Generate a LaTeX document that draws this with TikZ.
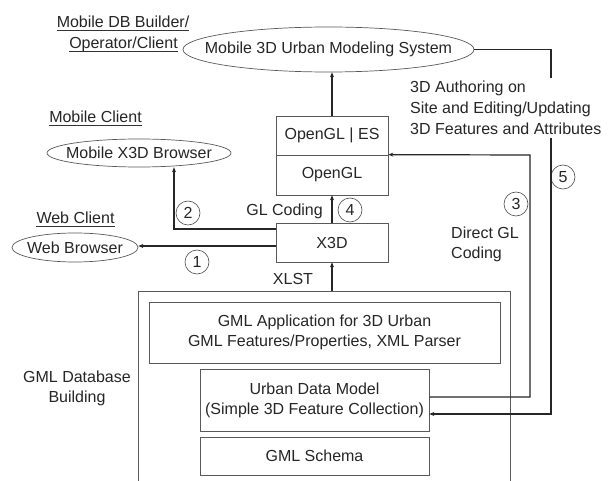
\documentclass[tikz,border=0pt]{standalone}
\usepackage{fontspec}
\setmainfont{Liberation Sans}
\usetikzlibrary{arrows.meta,calc,shapes.geometric}
\begin{document}
\begin{tikzpicture}[x=1pt,y=-1pt,font=\fontsize{16}{20}\selectfont,text=black!85]
\tikzset{
  oval/.style={ellipse,draw=black!65,line width=0.7pt,inner sep=0pt},
  rbox/.style={rectangle,draw=black!65,line width=0.7pt,inner sep=0pt,align=center},
  num/.style={circle,draw=black!70,line width=0.6pt,minimum size=24pt,inner sep=0pt},
  conn/.style={line width=1.2pt,draw=black!85},
  arr/.style={conn,-{Stealth[length=5pt,width=4pt]}},
  ulab/.style={inner sep=0pt,anchor=base},
  uline/.style={draw=black!80,line width=0.7pt},
  txt/.style={inner sep=0pt,align=left},
}
\useasboundingbox (0,0) rectangle (611,481);
\fill[white] (0,0) rectangle (611,481);

% boxes
\node[rbox,minimum width=372pt,minimum height=200pt] (db) at (324,391) {};
\node[rbox,minimum width=351pt,minimum height=61pt] (app) at (324.5,332.5) {GML Application for 3D Urban\\GML Features/Properties, XML Parser};
\node[rbox,minimum width=229pt,minimum height=62pt] (udm) at (314.5,400) {Urban Data Model\\(Simple 3D Feature Collection)};
\node[rbox,minimum width=229pt,minimum height=38pt] (sch) at (314.5,456) {GML Schema};
\node[rbox,minimum width=112pt,minimum height=39pt] (x3d) at (332,242.5) {X3D};
\node[rbox,minimum width=112pt,minimum height=40pt] (gl) at (332,175) {OpenGL};
\node[rbox,minimum width=112pt,minimum height=39pt] (gles) at (332,135.5) {OpenGL | ES};

% ellipses
\node[oval,minimum width=291pt,minimum height=45pt,label={[inner sep=0pt]center:Mobile 3D Urban Modeling System}] (m3d) at (328.5,49.5) {};
\node[oval,minimum width=184pt,minimum height=28pt,label={[inner sep=0pt]center:Mobile X3D Browser}] (mxb) at (139,153) {};
\node[oval,minimum width=126pt,minimum height=29pt,label={[inner sep=0pt]center:Web Browser}] (wb) at (75,247.5) {};

% underlined labels
\node[ulab] (lb1) at (123,28) {Mobile DB Builder/};
\node[ulab] (lb2) at (123.5,49) {Operator/Client};
\node[ulab] (lb3) at (95.5,123) {Mobile Client};
\node[ulab] (lb4) at (75.5,224) {Web Client};
\foreach \n in {lb1,lb2,lb3,lb4}
  \draw[uline] ($(\n.base west)+(0,2.2)$) -- ($(\n.base east)+(0,2.2)$);

% other texts
\node[txt,align=center,anchor=north] (gdb) at (77,371) {GML Database\\Building};
\node[inner sep=0pt,anchor=base] (xlst) at (293,285) {XLST};
\node[inner sep=0pt,anchor=base east] (glc) at (323,216) {GL Coding};
\node[txt,anchor=north west] (dgl) at (451,227) {Direct GL\\Coding};

% numbers
\node[num] (n1) at (197,262) {1};
\node[num] (n2) at (188,213) {2};
\node[num] (n3) at (516,204) {3};
\node[num] (n4) at (350,210) {4};
\node[num] (n5) at (563,177) {5};

% connectors
\draw[arr] (gles.north) -- (gles.north |- m3d.south);
\draw[arr] (x3d.north) -- (gl.south);
\draw[arr] (x3d.north |- db.north) -- (x3d.south);
\draw[arr] ($(x3d.west)+(0,-13.5)$) -| ($(mxb.south)+(35,0)$);
\coordinate (p1) at ($(x3d.west)+(0,3.5)$);
\draw[arr] (p1) -- (wb.east |- p1);
\coordinate (c3) at (530,155);
\draw[arr] ($(udm.east)+(0,-3)$) -| (c3) -- (gl.north east);
\coordinate (c5) at (551,49.5);
\draw[arr] (m3d.east) -- (c5) |- ($(udm.east)+(0,14)$);

% authoring text (covers connector 5)
\node[txt,fill=white,inner sep=3pt,anchor=north west,font=\fontsize{16}{21}\selectfont] (auth) at (407,78) {3D Authoring on\\Site and Editing/Updating\\3D Features and Attributes};
\end{tikzpicture}
\end{document}
